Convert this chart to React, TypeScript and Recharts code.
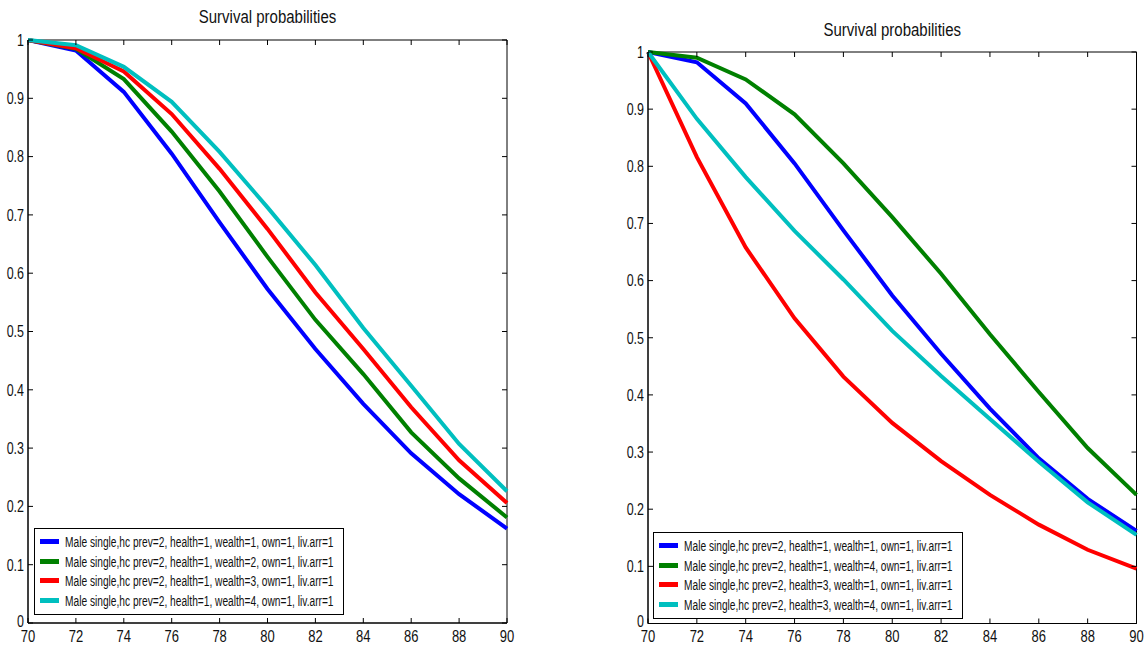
import React from "react";
import { LineChart, Line, XAxis, YAxis, ReferenceArea, Legend } from "recharts";

const ages = [70, 72, 74, 76, 78, 80, 82, 84, 86, 88, 90];
const yTicks = [0, 0.1, 0.2, 0.3, 0.4, 0.5, 0.6, 0.7, 0.8, 0.9, 1];

// left panel: health=1, wealth 1..4
const leftWealth1 = [1, 0.982, 0.911, 0.805, 0.687, 0.573, 0.47, 0.376, 0.291, 0.221, 0.162];
const leftWealth2 = [1, 0.985, 0.933, 0.843, 0.74, 0.628, 0.52, 0.427, 0.327, 0.248, 0.181];
const leftWealth3 = [1, 0.986, 0.946, 0.873, 0.779, 0.676, 0.567, 0.47, 0.37, 0.279, 0.206];
const leftWealth4 = [1, 0.991, 0.954, 0.894, 0.808, 0.713, 0.614, 0.506, 0.407, 0.307, 0.226];

// right panel: health 1/3 x wealth 1/4
const rightH1W1 = [1, 0.982, 0.91, 0.805, 0.688, 0.574, 0.472, 0.376, 0.289, 0.218, 0.162];
const rightH1W4 = [1, 0.99, 0.952, 0.891, 0.805, 0.711, 0.612, 0.506, 0.405, 0.307, 0.225];
const rightH3W1 = [1, 0.816, 0.658, 0.534, 0.432, 0.351, 0.284, 0.225, 0.173, 0.129, 0.096];
const rightH3W4 = [1, 0.883, 0.781, 0.687, 0.602, 0.512, 0.433, 0.358, 0.283, 0.212, 0.155];

const leftLabels = [
  "Male single,hc prev=2, health=1, wealth=1, own=1, liv.arr=1",
  "Male single,hc prev=2, health=1, wealth=2, own=1, liv.arr=1",
  "Male single,hc prev=2, health=1, wealth=3, own=1, liv.arr=1",
  "Male single,hc prev=2, health=1, wealth=4, own=1, liv.arr=1",
];
const rightLabels = [
  "Male single,hc prev=2, health=1, wealth=1, own=1, liv.arr=1",
  "Male single,hc prev=2, health=1, wealth=4, own=1, liv.arr=1",
  "Male single,hc prev=2, health=3, wealth=1, own=1, liv.arr=1",
  "Male single,hc prev=2, health=3, wealth=4, own=1, liv.arr=1",
];

const colors = ["#0000ff", "#008000", "#ff0000", "#00bfbf"];
const FONT = "'Liberation Sans', Arial, Helvetica, sans-serif";

const leftData = ages.map((age, i) => ({
  age,
  s0: leftWealth1[i],
  s1: leftWealth2[i],
  s2: leftWealth3[i],
  s3: leftWealth4[i],
}));
const rightData = ages.map((age, i) => ({
  age,
  s0: rightH1W1[i],
  s1: rightH1W4[i],
  s2: rightH3W1[i],
  s3: rightH3W4[i],
}));

const fmt = (v: number) => (v === 0 || v === 1 ? String(v) : v.toFixed(1));

// text in the original is tall and narrow, so stretch it vertically
const STRETCH = 1.3;

const makeXTick = (top: number, bottom: number) => (props: any) => {
  const { x, payload } = props;
  return (
    <g>
      <line x1={x} x2={x} y1={bottom} y2={bottom - 5} stroke="#000" />
      <line x1={x} x2={x} y1={top} y2={top + 5} stroke="#000" />
      <text
        transform={`translate(${x},${bottom + 18.5}) scale(1,${STRETCH})`}
        textAnchor="middle"
        fontFamily={FONT}
        fontSize={13}
        fill="#111"
      >
        {payload.value}
      </text>
    </g>
  );
};

const makeYTick = (left: number, right: number) => (props: any) => {
  const { y, payload } = props;
  const lift = payload.value === 0 ? -2 : 0;
  return (
    <g>
      <line x1={left} x2={left + 5} y1={y} y2={y} stroke="#000" />
      <line x1={right} x2={right - 5} y1={y} y2={y} stroke="#000" />
      <text
        transform={`translate(${left - 4},${y + lift}) scale(1,${STRETCH})`}
        dy="0.36em"
        textAnchor="end"
        fontFamily={FONT}
        fontSize={12.5}
        fill="#111"
      >
        {fmt(payload.value)}
      </text>
    </g>
  );
};

const makeLegend = (labels: string[]) => () => (
  <div
    style={{
      border: "1px solid #000",
      background: "#fff",
      padding: "3px 9px 4px 5px",
      fontFamily: FONT,
      fontSize: 10.2,
      color: "#111",
    }}
  >
    {labels.map((label, i) => (
      <div key={label} style={{ display: "flex", alignItems: "center", height: 19.5, whiteSpace: "nowrap" }}>
        <span style={{ display: "inline-block", width: 19, height: 5, background: colors[i], marginRight: 6 }} />
        <span style={{ display: "inline-block", transform: "scaleY(1.45)" }}>{label}</span>
      </div>
    ))}
  </div>
);

type PanelProps = {
  data: any[];
  labels: string[];
  left: number;
  width: number;
  plot: { left: number; right: number; top: number; bottom: number };
  legendPos: { left: number; top: number };
  titleBaseline: number;
};

const Panel = ({ data, labels, left, width, plot, legendPos, titleBaseline }: PanelProps) => {
  const height = 646;
  const xTick = makeXTick(plot.top, plot.bottom);
  const yTick = makeYTick(plot.left, plot.right);
  return (
    <div style={{ position: "absolute", left, top: 0, width, height }}>
      <div
        style={{
          position: "absolute",
          left: (plot.left + plot.right) / 2 - 150,
          width: 300,
          top: titleBaseline - 13,
          textAlign: "center",
          fontFamily: FONT,
          fontSize: 15,
          lineHeight: "15px",
          color: "#111",
          transform: "scaleY(1.22)",
          transformOrigin: "50% 100%",
        }}
      >
        Survival probabilities
      </div>
      <LineChart
        width={width}
        height={height}
        data={data}
        margin={{ top: plot.top, right: width - plot.right, bottom: 0, left: 0 }}
      >
        <XAxis
          dataKey="age"
          type="number"
          domain={[70, 90]}
          ticks={ages}
          height={height - plot.bottom}
          axisLine={{ stroke: "#000" }}
          tickLine={false}
          tick={xTick}
          interval={0}
        />
        <YAxis
          type="number"
          domain={[0, 1]}
          ticks={yTicks}
          width={plot.left}
          axisLine={{ stroke: "#000" }}
          tickLine={false}
          tick={yTick}
          interval={0}
        />
        <ReferenceArea x1={70} x2={90} y1={0} y2={1} fill="none" stroke="#000" strokeWidth={1} />
        {labels.map((label, i) => (
          <Line
            key={label}
            type="linear"
            dataKey={`s${i}`}
            name={label}
            stroke={colors[i]}
            strokeWidth={4}
            dot={false}
            isAnimationActive={false}
          />
        ))}
        <Legend
          layout="vertical"
          align="center"
          verticalAlign="middle"
          wrapperStyle={{ left: legendPos.left, top: legendPos.top, width: "auto" }}
          content={makeLegend(labels)}
        />
      </LineChart>
    </div>
  );
}

export default function App() {
  return (
    <div style={{ position: "absolute", left: 0, top: 0, width: 1146, height: 646, background: "#fff" }}>
      <Panel
        data={leftData}
        labels={leftLabels}
        left={0}
        width={540}
        plot={{ left: 28, right: 507, top: 40, bottom: 623 }}
        legendPos={{ left: 34, top: 528 }}
        titleBaseline={23}
      />
      <Panel
        data={rightData}
        labels={rightLabels}
        left={600}
        width={546}
        plot={{ left: 48, right: 536.5, top: 52, bottom: 623.5 }}
        legendPos={{ left: 53, top: 532 }}
        titleBaseline={35.5}
      />
    </div>
  );
}
